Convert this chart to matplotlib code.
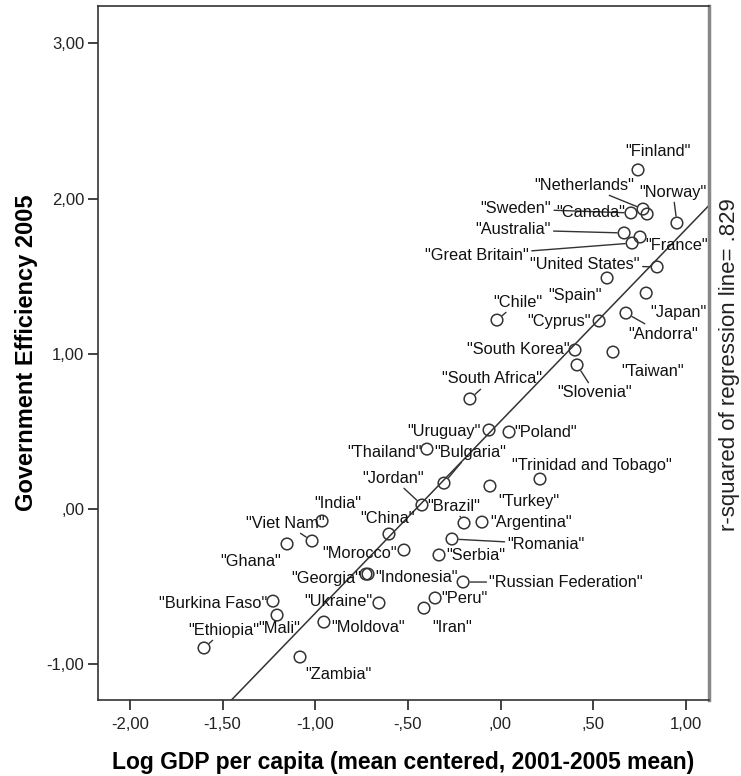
import matplotlib
matplotlib.use('Agg')
import matplotlib.pyplot as plt
from matplotlib.ticker import FuncFormatter

# country labels and values
COUNTRIES = ["Finland", "Netherlands", "Sweden", "Canada", "Norway", "Australia",
             "France", "Great Britain", "United States", "Spain", "Japan", "Chile",
             "Cyprus", "Andorra", "South Korea", "Taiwan", "Slovenia", "South Africa",
             "Uruguay", "Poland", "Thailand", "Bulgaria", "Jordan", "Brazil", "Turkey",
             "Trinidad and Tobago", "Argentina", "Romania", "Serbia",
             "Russian Federation", "Peru", "Iran", "Georgia", "Indonesia", "India",
             "Viet Nam", "Ghana", "China", "Morocco", "Burkina Faso", "Mali",
             "Ethiopia", "Ukraine", "Moldova", "Zambia"]
LOG_GDP = [0.742, 0.769, 0.704, 0.791, 0.952, 0.667,
           0.753, 0.710, 0.845, 0.575, 0.786, -0.019,
           0.532, 0.677, 0.402, 0.607, 0.413, -0.165,
           -0.062, 0.046, -0.397, -0.305, -0.424, -0.197, -0.057,
           0.213, -0.100, -0.262, -0.332,
           -0.202, -0.353, -0.413, -0.726, -0.715, -0.963,
           -1.017, -1.152, -0.602, -0.521, -1.228, -1.206,
           -1.600, -0.656, -0.953, -1.082]
GOV_EFF = [2.184, 1.932, 1.907, 1.900, 1.842, 1.778,
           1.752, 1.713, 1.559, 1.488, 1.391, 1.217,
           1.211, 1.262, 1.024, 1.011, 0.928, 0.709,
           0.509, 0.496, 0.386, 0.167, 0.026, -0.090, 0.148,
           0.193, -0.084, -0.193, -0.296,
           -0.470, -0.573, -0.638, -0.419, -0.419, -0.077,
           -0.206, -0.225, -0.161, -0.264, -0.593, -0.683,
           -0.895, -0.605, -0.728, -0.953]

FIT_INTERCEPT = 0.565
FIT_SLOPE = 1.236
R_SQUARED = ".829"

X_TICKS = [-2.0, -1.5, -1.0, -0.5, 0.0, 0.5, 1.0]
Y_TICKS = [-1.0, 0.0, 1.0, 2.0, 3.0]

# label placement (pixel offsets from the point, y up) and which get a leader line
LABEL_OFFSETS = {
    "Finland": (20, 18), "Netherlands": (-59, 24), "Sweden": (-115, 4),
    "Canada": (-56, 2), "Norway": (-4, 31), "Australia": (-111, 3),
    "France": (37, -8), "Great Britain": (-155, -12), "United States": (-72, 2),
    "Spain": (-32, -17), "Japan": (32, -19), "Chile": (21, 18),
    "Cyprus": (-40, 0), "Andorra": (37, -21), "South Korea": (-57, 1),
    "Taiwan": (40, -19), "Slovenia": (18, -28), "South Africa": (22, 20),
    "Uruguay": (-45, -1), "Poland": (37, 0), "Thailand": (-42, -3),
    "Bulgaria": (26, 31), "Jordan": (-29, 27), "Brazil": (-10, 17),
    "Turkey": (39, -15), "Trinidad and Tobago": (52, 14), "Argentina": (49, 0),
    "Romania": (94, -5), "Serbia": (37, 0), "Russian Federation": (103, 0),
    "Peru": (29, 0), "Iran": (28, -19), "Georgia": (-40, -4),
    "Indonesia": (48, -3), "India": (16, 18), "Viet Nam": (-27, 18),
    "Ghana": (-36, -18), "China": (-1, 16), "Morocco": (-44, -3),
    "Burkina Faso": (-60, -2), "Mali": (2, -13), "Ethiopia": (20, 18),
    "Ukraine": (-41, 1), "Moldova": (44, -5), "Zambia": (38, -17),
}
LEADERS = {"Netherlands", "Norway", "Sweden", "Australia", "Great Britain",
           "United States", "Chile", "Andorra", "South Africa", "Slovenia",
           "Bulgaria", "Jordan", "Brazil", "Romania", "Russian Federation",
           "Viet Nam", "Ethiopia"}

plt.rcParams['font.family'] = ['Liberation Sans', 'DejaVu Sans']

fig = plt.figure(figsize=(7.41, 7.76), dpi=100)
ax = fig.add_axes([0.1323, 0.0979, 0.8245, 0.8944])

ax.set_xlim(-2.172, 1.125)
ax.set_ylim(-1.230, 3.240)

ax.scatter(LOG_GDP, GOV_EFF, s=70, facecolors='none', edgecolors='#333333',
           linewidths=1.1, zorder=3)

xs = [-2.172, 1.125]
ax.plot(xs, [FIT_INTERCEPT + FIT_SLOPE * v for v in xs], color='#333333',
        lw=1.1, zorder=2)

for name, x, y in zip(COUNTRIES, LOG_GDP, GOV_EFF):
    dx, dy = LABEL_OFFSETS[name]
    kw = {}
    if name in LEADERS:
        kw['arrowprops'] = dict(arrowstyle='-', color='#333333', lw=1.0,
                                shrinkA=0, shrinkB=5)
    ax.annotate(f'"{name}"', (x, y), xytext=(dx, dy), textcoords='offset pixels',
                ha='center', va='center', fontsize=11.8, color='#111111',
                zorder=4, **kw)


def spss_fmt(v, pos):
    s = f"{v:.2f}".replace(".", ",")
    # SPSS drops the leading zero: ,50  -,50  ,00
    return s.replace("0,", ",", 1) if abs(v) < 1 else s


ax.set_xticks(X_TICKS)
ax.set_yticks(Y_TICKS)
ax.xaxis.set_major_formatter(FuncFormatter(spss_fmt))
ax.yaxis.set_major_formatter(FuncFormatter(spss_fmt))
ax.tick_params(direction='out', length=7, width=1.2, labelsize=12,
               colors='#222222', pad=3)
ax.tick_params(axis='x', pad=5)

for side in ['left', 'bottom', 'top']:
    ax.spines[side].set_color('#333333')
    ax.spines[side].set_linewidth(1.2)
ax.spines['right'].set_color('#888888')
ax.spines['right'].set_linewidth(2.5)

ax.set_xlabel('Log GDP per capita (mean centered, 2001-2005 mean)',
              fontsize=16.5, fontweight='bold', labelpad=14)
ax.set_ylabel('Government Efficiency 2005', fontsize=17, fontweight='bold',
              labelpad=6)

fig.text(0.984, 0.5296, f'r-squared of regression line= {R_SQUARED}', rotation=90,
         ha='center', va='center', fontsize=16, color='#222222')

fig.savefig('out.png', dpi=100, facecolor='white')
